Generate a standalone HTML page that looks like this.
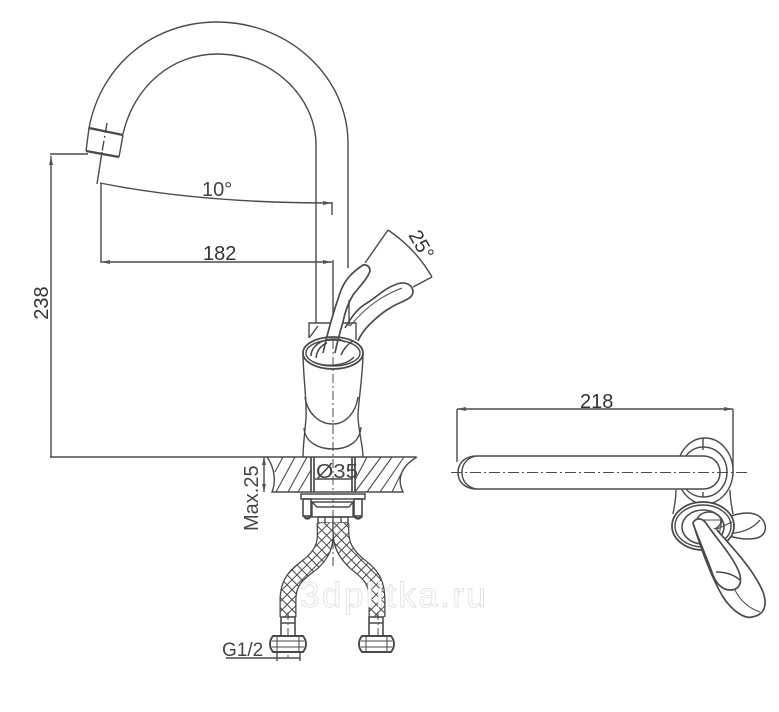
<!DOCTYPE html>
<html><head><meta charset="utf-8"><style>
html,body{margin:0;padding:0;background:#fff}
svg{display:block}
text{font-family:"Liberation Sans",sans-serif;fill:#333}
</style></head><body>
<svg width="779" height="712" viewBox="0 0 779 712" xmlns="http://www.w3.org/2000/svg">
<defs>
<pattern id="mesh" width="7" height="7" patternUnits="userSpaceOnUse" patternTransform="rotate(45)">
<rect width="7" height="7" fill="#fff"/>
<path d="M0 0H7M0 0V7" stroke="#444" stroke-width="1.9" fill="none"/>
</pattern>
</defs>
<g fill="none" stroke="#4a4a4a" stroke-width="1.4">
<!-- spout -->
<path d="M89 128C101 64 154 22 217 22C290 22 348 78 348 143V268"/>
<path d="M123 134C134 86 172 54 217 54C272 54 316 97 316 145V323"/>
<path d="M89 128L123 135" stroke-width="2.3"/>
<path d="M89 128L86 151M123 135L119 157"/>
<path d="M86 151L119 157" stroke-width="2.3"/>
<path d="M107 123L102 152" stroke-dasharray="10 3 2 3"/>
<path d="M102 152L97 184"/>
<!-- 238 -->
<path d="M50 154H88M51 156V457M50 457H416"/>
<path d="M51 156l-2 9h4z" fill="#555" stroke="none"/>
<!-- 10 deg -->
<path d="M100 183C170 197 250 203 332 203M332 202V215"/>
<path d="M332 203l-9-2v4z" fill="#555" stroke="none"/>
<!-- 182 -->
<path d="M101 183V262H332M333 260V325"/>
<path d="M101 262l9-2v4zM332 262l-9-2v4z" fill="#555" stroke="none"/>
<!-- 25 deg -->
<path d="M388 230C406 242 421 258 432 277M388 230L365 263M432 277L413 287"/>
<!-- block behind body -->
<path d="M309 338V323H356V340M309 338L318 326"/>
<!-- handles -->
<path d="M345 328C352 316 358 308 367 303C378 296 385 288 397 284C406 281 412 285 413 291C413 296 410 298 404 301C392 306 382 312 370 324C364 330 360 336 358 341" stroke-width="1.7"/>
<path d="M350 326C362 312 376 298 402 288" stroke-width="1"/>
<path d="M323 353C327 335 333 313 340 293C344 281 351 273 363 265C368 264 370 268 370 271C368 278 360 286 353 295C348 303 345 312 343 322C340 332 337 343 335 353" fill="#fff" stroke-width="1.7"/>
<path d="M349 300V326"/>
<!-- body -->
<path d="M303 353C303 375 307 400 306 418C305 432 303 445 303 457"/>
<path d="M363 352C363 375 359 395 358 415C358 430 363 445 363 457"/>
<ellipse cx="333" cy="353" rx="30" ry="16" stroke-width="1.8"/>
<ellipse cx="333" cy="353" rx="27" ry="13"/>
<path d="M311 356C311 346 322 339 334 339C338 339 342 340 345 342" stroke-width="1.5"/>
<path d="M316 358C317 349 322 345 327 343" stroke-width="1.5"/>
<path d="M314 362C322 367 345 367 354 357" stroke-width="1.5"/>
<path d="M341 355C344 348 349 343 353 341" stroke-width="1.5"/>
<path d="M305 397C307 412 318 424 333 424C346 424 356 412 358 397"/>
<path d="M304 428C305 442 318 449 333 449C348 449 360 442 361 427"/>
<path d="M333 340V520" stroke-dasharray="9 3 2 3" stroke-width="1"/>
<!-- counter -->
<path d="M267 457C275 468 276 482 272 492H403C398 482 398 468 417 457" stroke-width="1.4"/>
<path d="M311 457V492M314 457V492M355 457V492M352 457V492" stroke-width="1.7"/>
<g stroke-width="1.1">
<path d="M275 472L283 457M276 492L295 457M288 492L307 457M298 492L311 470M355 480L367 457M355 492L381 457M367 492L392 457M380 492L404 457M392 492L402 472"/>
</g>
<path d="M264 457V492"/>
<path d="M264 457l-2 8h4zM264 492l-2-8h4z" fill="#555" stroke="none"/>
<path d="M315 479H352"/>
<!-- under parts -->
<rect x="301" y="494" width="64" height="5" fill="#fff" stroke-width="1.5"/>
<rect x="303" y="499" width="8" height="17" stroke-width="1.6"/>
<rect x="354" y="499" width="8" height="17" stroke-width="1.6"/>
<path d="M304 516q3 5 7 0M354 516q4 5 8 0" stroke-width="2.4"/>
<path d="M312 502H353V517H312ZM312 502l5 5H349l4-5"/>
<rect x="318" y="517" width="30" height="6" stroke-width="1.5"/>
<path d="M325 517V523M333 517V523M341 517V523"/>
<!-- hoses -->
<path d="M325 523C326 540 326 550 312 563C298 574 288 580 288 600V617" stroke="#444" stroke-width="17"/>
<path d="M325 523C326 540 326 550 312 563C298 574 288 580 288 600V617" stroke="url(#mesh)" stroke-width="14.5"/>
<path d="M341 523C340 540 342 550 356 563C370 574 377 580 377 600V617" stroke="#444" stroke-width="17"/>
<path d="M341 523C340 540 342 550 356 563C370 574 377 580 377 600V617" stroke="url(#mesh)" stroke-width="14.5"/>
<path d="M333 523V566" stroke-dasharray="9 3 2 3" stroke-width="1"/>
<rect x="281" y="617" width="14" height="19" fill="#fff" stroke-width="1.6"/>
<rect x="369" y="617" width="14" height="19" fill="#fff" stroke-width="1.6"/>
<path d="M288 612V660M378 612V650" stroke-width="1" stroke-dasharray="8 3 2 3"/>
<path d="M281 623H295M369 623H383"/>
<path d="M273 636H303C307 641 307 647 303 652H273C269 647 269 641 273 636Z" fill="#fff" stroke-width="2"/>
<path d="M362 636H391C395 641 395 647 391 652H362C358 647 358 641 362 636Z" fill="#fff" stroke-width="2"/>
<path d="M272 641H304M272 647H304M361 641H392M361 647H392" stroke-width="1"/>
<path d="M277 636V652M366 636V652M387 636V652M299 636V652" stroke-width="1"/>
<!-- G1/2 -->
<path d="M226 658H300M277 652V661M300 652V661"/>
<!-- right view -->
<path d="M457 409H733M457 409V462M733 409V476"/>
<path d="M457 409l9-2v4zM733 409l-9-2v4z" fill="#555" stroke="none"/>
<ellipse cx="705" cy="471" rx="28" ry="33" fill="#fff"/>
<path d="M703 438V450M703 492V497"/>
<path d="M676 490C676 500 674 508 673 514M730 490C730 500 732 508 733 514"/>
<path d="M477 456H703C713 456 720 463 720 472.5C720 482 713 489 703 489H477C465 489 458 482 458 472.5C458 463 465 456 477 456Z" fill="#fff" stroke-width="1.5"/>
<path d="M476 456C467 458 462 464 462 472.5C462 481 467 487 476 489"/>
<path d="M686 456C690 450 697 447 703 447C718 447 727 459 727 472C727 485 718 497 703 497C697 497 690 494 686 489"/>
<path d="M451 472.5H750" stroke-dasharray="11 3 2 3" stroke-width="1"/>
<!-- side handle -->
<path d="M722 520C735 513 752 510 760 517C768 524 767 535 757 538C745 541 732 537 722 534" fill="#fff" stroke-width="1.5"/>
<path d="M760 520C752 530 738 534 722 534"/>
<!-- ring -->
<ellipse cx="703" cy="526" rx="31" ry="24" fill="#fff" stroke-width="1.8"/>
<ellipse cx="703" cy="526" rx="28" ry="21"/>
<ellipse cx="703" cy="527" rx="21" ry="17" stroke-width="1.6"/>
<ellipse cx="709" cy="521" rx="12" ry="9" stroke-width="1.5"/>
<path d="M695 520L722 520M722 520L717 545M715 530L732 522" stroke-width="1"/>
<!-- long handle -->
<path d="M693 523C700 545 710 575 723 597C733 612 745 619 752 617C764 615 768 606 763 592C755 572 735 550 717 530" fill="#fff" stroke-width="1.7"/>
<path d="M693 523C696 517 702 518 706 523C715 537 735 558 740 575C742 585 738 590 730 590C722 590 716 583 713 575C707 558 698 538 693 523Z" fill="#fff" stroke-width="1.7"/>
<path d="M716 572C725 572 733 574 740 580"/>
<path d="M735 590C740 600 748 608 760 612" stroke-width="1"/>
</g>
<!-- labels -->
<text x="202" y="196" font-size="20" style="fill:#444">10°</text>
<text x="203" y="260" font-size="20">182</text>
<text x="48" y="303" font-size="20" text-anchor="middle" transform="rotate(-90 48 303)">238</text>
<text x="0" y="0" font-size="20" transform="translate(408 235) rotate(60)">25°</text>
<text x="316" y="478" font-size="20" style="fill:#444" textLength="42" lengthAdjust="spacingAndGlyphs">Ø35</text>
<text x="0" y="0" font-size="20" transform="translate(258 531) rotate(-90)" style="fill:#444">Max.25</text>
<text x="222" y="656" font-size="19" style="fill:#444">G1/2</text>
<text x="580" y="408" font-size="20">218</text>
<text x="300" y="607" font-size="35" style="fill:#fff;stroke:#ddd;stroke-width:0.8" textLength="186">3dplitka.ru</text>
</svg>
</body></html>
